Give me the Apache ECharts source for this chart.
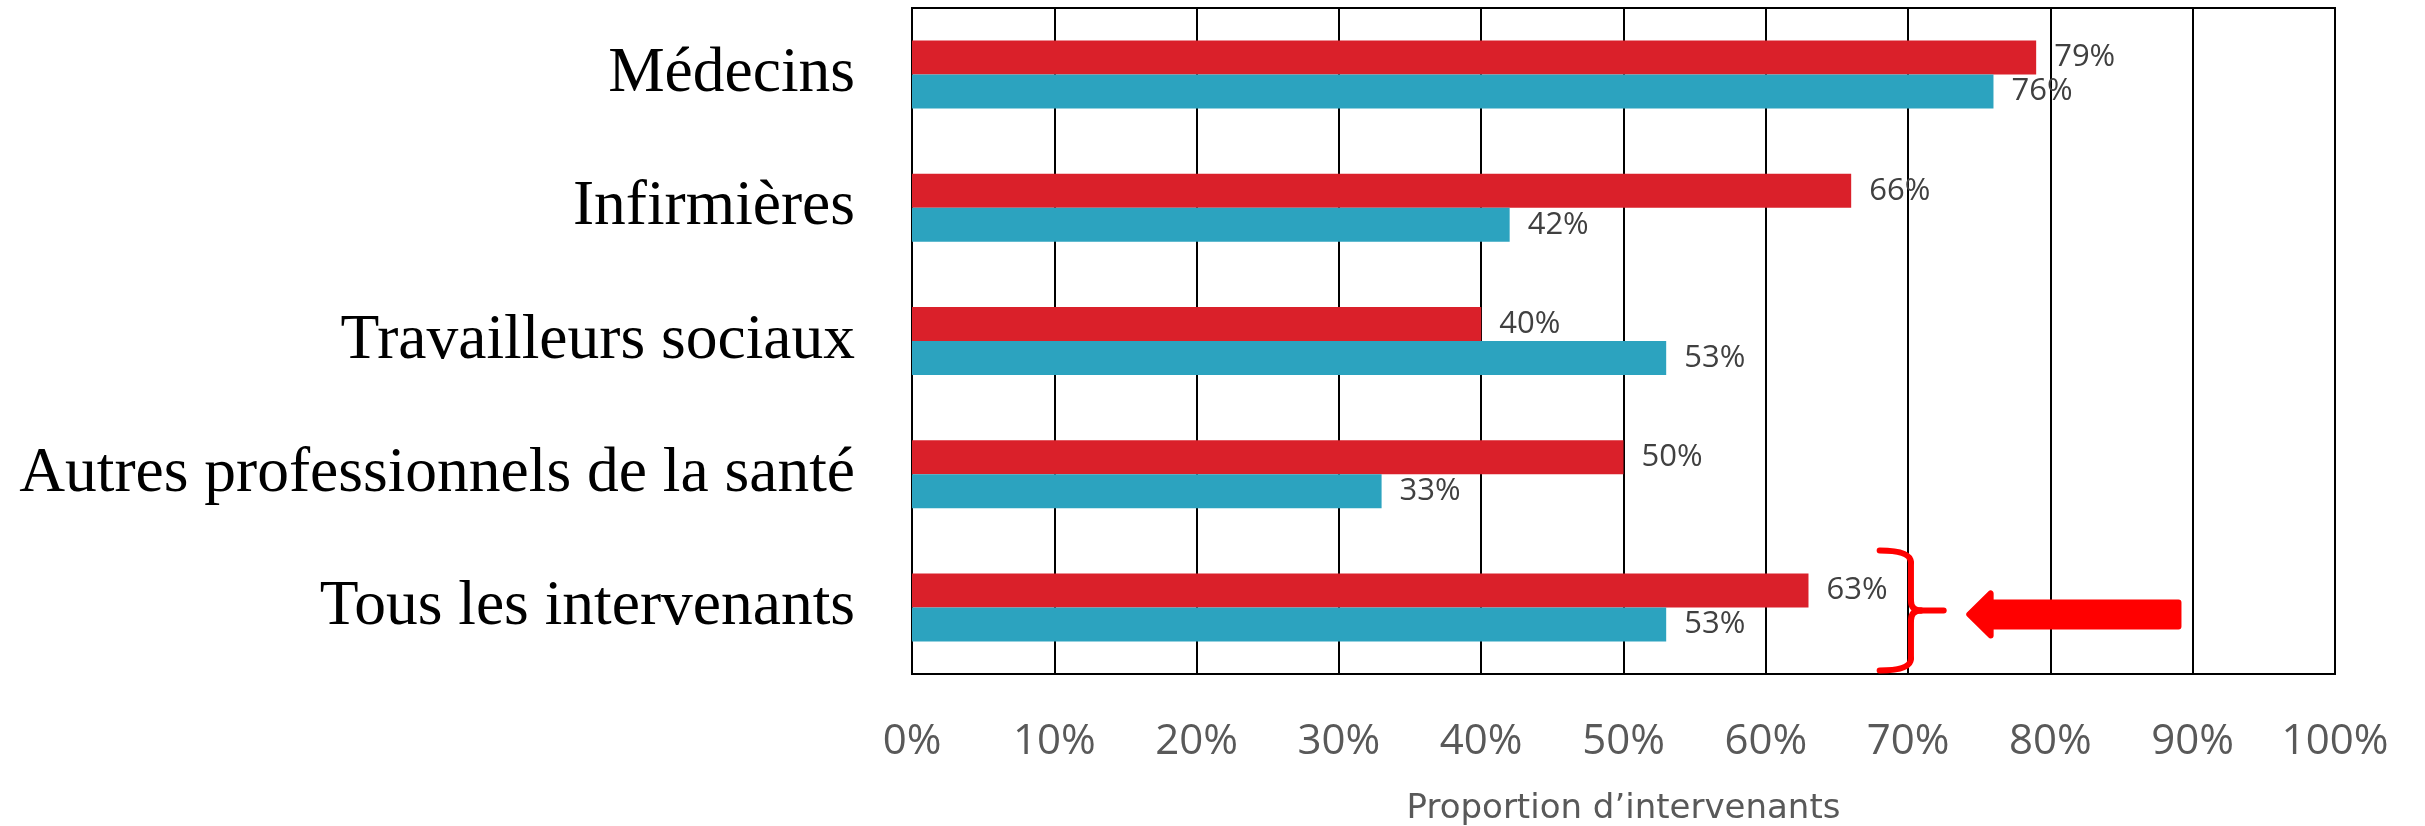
<!DOCTYPE html>
<html lang="fr">
<head>
<meta charset="utf-8">
<title>Proportion d’intervenants</title>
<script src="https://cdn.jsdelivr.net/npm/echarts@6/dist/echarts.min.js"></script>
<style>
  html, body { margin: 0; padding: 0; background: #ffffff; }
  #chart { width: 2425px; height: 826px; }
</style>
</head>
<body>
<div id="chart"></div>
<script>
// Professional groups, top to bottom
const categories = [
  'Médecins',
  'Infirmières',
  'Travailleurs sociaux',
  'Autres professionnels de la santé',
  'Tous les intervenants'
];
// Upper (red) bar of each pair, in percent
const redValues = [79, 66, 40, 50, 63];
// Lower (blue) bar of each pair, in percent
const blueValues = [76, 42, 53, 33, 53];
// X axis ticks
const xTicks = [0, 10, 20, 30, 40, 50, 60, 70, 80, 90, 100];
const xTitle = 'Proportion d’intervenants';

const RED = '#DA202A';
const BLUE = '#2CA3BF';
const MARK = '#FF0000';

const chart = echarts.init(document.getElementById('chart'), null, { renderer: 'canvas' });

const valueLabel = {
  show: true,
  position: 'right',
  distance: 18,
  formatter: '{c}%',
  fontFamily: 'Open Sans',
  fontSize: 31,
  color: '#404040'
};

chart.setOption({
  animation: false,
  backgroundColor: '#ffffff',
  grid: {
    left: 912,
    right: 90,
    top: 8,
    bottom: 152,
    show: true,
    borderColor: '#000000',
    borderWidth: 2,
    containLabel: false,
    outerBoundsMode: 'none'
  },
  xAxis: {
    type: 'value',
    min: xTicks[0],
    max: xTicks[xTicks.length - 1],
    interval: xTicks[1] - xTicks[0],
    name: xTitle,
    nameLocation: 'middle',
    nameGap: 118,
    nameTextStyle: { fontFamily: 'DejaVu Sans', fontSize: 34, color: '#595959' },
    axisLine: { show: true, lineStyle: { color: '#000000', width: 2 } },
    axisTick: { show: false },
    axisLabel: {
      formatter: '{value}%',
      fontFamily: 'Open Sans',
      fontSize: 42,
      color: '#595959',
      margin: 47
    },
    splitLine: { show: true, lineStyle: { color: '#000000', width: 2 } }
  },
  yAxis: {
    type: 'category',
    inverse: true,
    data: categories,
    axisLine: { show: true, lineStyle: { color: '#000000', width: 2 } },
    axisTick: { show: false },
    axisLabel: {
      fontFamily: 'Liberation Serif',
      fontSize: 63.5,
      color: '#000000',
      margin: 57
    },
    splitLine: { show: false }
  },
  series: [
    {
      name: 'rouge',
      type: 'bar',
      data: redValues,
      barWidth: 34,
      barGap: '0%',
      itemStyle: { color: RED },
      label: valueLabel
    },
    {
      name: 'bleu',
      type: 'bar',
      data: blueValues,
      barWidth: 34,
      barGap: '0%',
      itemStyle: { color: BLUE },
      label: valueLabel
    }
  ]
});

// Brace and arrow pointing at the "Tous les intervenants" pair
function drawCallout() {
  const last = categories[categories.length - 1];
  const cy = chart.convertToPixel({ yAxisIndex: 0 }, last);
  const px = v => chart.convertToPixel({ xAxisIndex: 0 }, v);

  const xHook = px(68.0);   // open ends of the brace
  const xSpine = px(70.2);  // vertical stroke of the brace
  const xTip = px(72.5);    // middle point of the brace
  const yTop = cy - 57;
  const yBot = cy + 63;
  const yMid = cy + 3;
  const r = 10;

  const stroke = { fill: null, stroke: MARK, lineWidth: 6, lineCap: 'round' };
  const curve = (x1, y1, cx, cy2, x2, y2) => ({
    type: 'bezierCurve',
    shape: { x1: x1, y1: y1, cpx1: cx, cpy1: cy2, x2: x2, y2: y2 },
    style: stroke,
    z: 100
  });
  const seg = (x1, y1, x2, y2) => ({
    type: 'line',
    shape: { x1: x1, y1: y1, x2: x2, y2: y2 },
    style: stroke,
    z: 100
  });

  const ay = cy + 7;
  const aTip = px(74.3);
  const aBase = px(75.8);
  const aEnd = px(89.0);

  chart.setOption({
    graphic: [
      curve(xHook, yTop, xSpine, yTop, xSpine, yTop + 12),
      seg(xSpine, yTop + 12, xSpine, yMid - r),
      curve(xSpine, yMid - r, xSpine, yMid, xSpine + r, yMid),
      seg(xSpine + r, yMid, xTip, yMid),
      curve(xSpine + r, yMid, xSpine, yMid, xSpine, yMid + r),
      seg(xSpine, yMid + r, xSpine, yBot - 12),
      curve(xSpine, yBot - 12, xSpine, yBot, xHook, yBot),
      {
        type: 'polygon',
        shape: {
          points: [
            [aTip, ay],
            [aBase, ay - 21],
            [aBase, ay - 12],
            [aEnd, ay - 12],
            [aEnd, ay + 12],
            [aBase, ay + 12],
            [aBase, ay + 21]
          ]
        },
        style: { fill: MARK, stroke: MARK, lineWidth: 6, lineJoin: 'round' },
        z: 100
      }
    ]
  });
}
drawCallout();
</script>
</body>
</html>
